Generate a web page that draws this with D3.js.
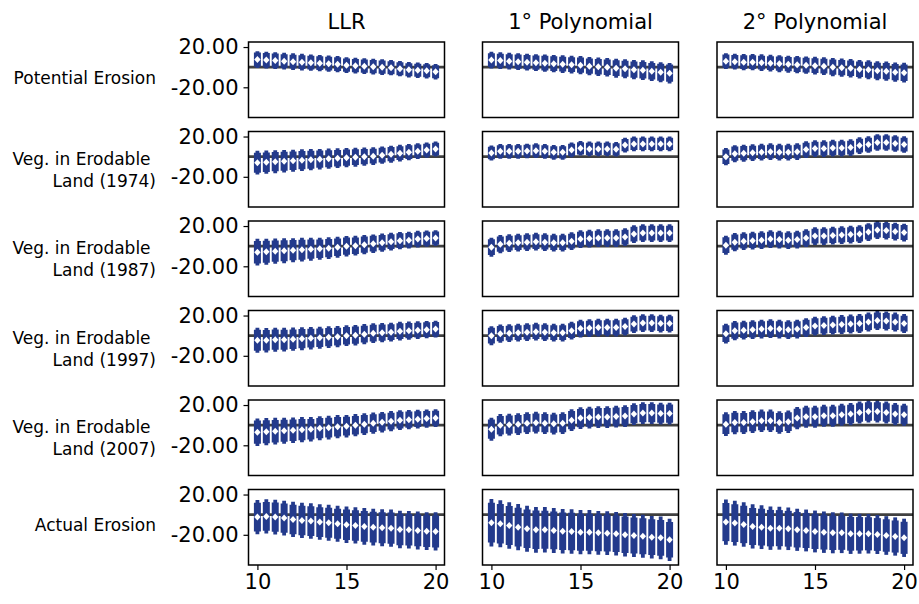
<!DOCTYPE html>
<html>
<head>
<meta charset="utf-8">
<script src="https://cdn.jsdelivr.net/npm/d3@7"></script>
<style>
  html, body { margin: 0; padding: 0; background: #fff; }
  svg { display: block; }
  text { font-family: "DejaVu Sans", sans-serif; fill: #000; }
</style>
</head>
<body>
<svg id="chart" width="919" height="604"></svg>
<script>
// Bandwidths at which each estimate was computed
const bandwidths = [10, 10.5, 11, 11.5, 12, 12.5, 13, 13.5, 14, 14.5, 15, 15.5, 16, 16.5, 17, 17.5, 18, 18.5, 19, 19.5, 20];

const methods = ["LLR", "1° Polynomial", "2° Polynomial"];
const outcomes = ["Potential Erosion", "Veg. in Erodable \nLand (1974)", "Veg. in Erodable \nLand (1987)",
                  "Veg. in Erodable \nLand (1997)", "Veg. in Erodable \nLand (2007)", "Actual Erosion"];
const yTicks = [20, -20];
const xTicks = [10, 15, 20];

// Point estimates and standard errors, one array per outcome × method
const estPotLLR = [7.5, 7, 6.5, 6, 5.5, 5, 4.5, 4, 3.5, 3, 2, 1.5, 1, 0.5, 0, -0.5, -1.5, -2.5, -3, -3.5, -4.5];
const sePotLLR  = [4.3, 4.3, 4.3, 4.2, 4.2, 4.2, 4.1, 4.1, 4.1, 4.1, 4.0, 4.0, 4.0, 4.0, 4.0, 3.9, 3.9, 3.9, 3.9, 3.9, 3.9];
const estPotP1  = [7, 6.5, 6, 5.5, 5, 4.5, 4, 3.5, 3, 2.5, 2, 1, 0.5, 0, -1, -1.5, -2.5, -3, -4, -5, -6];
const sePotP1   = [4.2, 4.2, 4.2, 4.3, 4.3, 4.3, 4.4, 4.4, 4.5, 4.5, 4.6, 4.6, 4.7, 4.7, 4.8, 4.8, 4.9, 5.0, 5.0, 5.1, 5.2];
const estPotP2  = [6, 5.5, 5, 5, 4.5, 4, 3.5, 3, 2.5, 2, 1.5, 1, 0, -0.5, -1, -2, -2.5, -3.5, -4, -5, -5.5];
const sePotP2   = [4.0, 4.0, 4.1, 4.1, 4.2, 4.2, 4.3, 4.3, 4.4, 4.4, 4.5, 4.5, 4.6, 4.6, 4.7, 4.7, 4.8, 4.8, 4.9, 4.9, 5.0];

const estV74LLR = [-6, -5.5, -5, -4.5, -4, -3.5, -3, -2.5, -2, -1.5, -1, -0.5, 0, 0.5, 1.5, 2.5, 3.5, 4.5, 5.5, 6.5, 7.5];
const seV74LLR  = [6.0, 5.9, 5.8, 5.7, 5.6, 5.5, 5.4, 5.2, 5.1, 5.0, 4.9, 4.8, 4.6, 4.5, 4.4, 4.3, 4.2, 4.1, 4.0, 3.9, 3.8];
const estV74P1  = [3.7, 5.3, 5.3, 5.3, 5.7, 6, 5.3, 4.3, 4.3, 6.7, 8.3, 7.7, 7.7, 7.7, 7.3, 11.5, 12.7, 12.7, 12.7, 12.7, 12.7];
const seV74P1   = [3.8, 3.7, 3.7, 3.7, 3.7, 3.7, 3.7, 3.7, 3.7, 3.7, 3.7, 3.7, 3.7, 3.7, 3.7, 3.7, 3.7, 3.7, 3.7, 3.7, 3.7];
const estV74P2  = [0, 3, 3.5, 4, 4.5, 5, 4.5, 4.5, 5, 7, 8, 8, 8.5, 8.5, 9, 11, 12, 14, 14, 13, 12];
const seV74P2   = [4.4, 4.3, 4.3, 4.2, 4.2, 4.2, 4.2, 4.2, 4.2, 4.2, 4.2, 4.2, 4.2, 4.2, 4.2, 4.2, 4.2, 4.2, 4.2, 4.2, 4.2];

const estV87LLR = [-6, -5.5, -5, -4.5, -4, -3.5, -3, -2.5, -2, -1, 0, 0.5, 1.5, 2.5, 3.5, 4.5, 5.5, 6, 7, 7.5, 8];
const seV87LLR  = [6.8, 6.6, 6.4, 6.3, 6.1, 6.0, 5.8, 5.6, 5.5, 5.3, 5.2, 5.0, 4.9, 4.7, 4.6, 4.5, 4.4, 4.3, 4.2, 4.1, 4.0];
const estV87P1  = [-1, 2, 3, 3.5, 4, 4.5, 4, 3.5, 3.5, 5, 7, 7.5, 8, 8, 8, 9, 12, 13, 13, 13, 13];
const seV87P1   = [4.8, 4.6, 4.5, 4.5, 4.5, 4.5, 4.5, 4.5, 4.5, 4.5, 4.5, 4.5, 4.5, 4.5, 4.5, 4.5, 4.5, 4.5, 4.5, 4.5, 4.5];
const estV87P2  = [1, 4, 5, 5.5, 6, 7, 6.5, 6, 6.5, 8, 10, 10, 10.5, 11, 11.5, 12, 14, 16, 15.5, 14.5, 13.5];
const seV87P2   = [4.8, 4.6, 4.5, 4.5, 4.5, 4.5, 4.5, 4.5, 4.5, 4.5, 4.5, 4.5, 4.5, 4.5, 4.5, 4.5, 4.5, 4.5, 4.5, 4.5, 4.5];

const estV97LLR = [-4.5, -4.5, -4, -4, -3.5, -3, -2.5, -2, -1.5, -1, 0, 0.5, 1.5, 2.5, 3, 3.5, 4.5, 5, 5.5, 6, 6.5];
const seV97LLR  = [6.3, 6.2, 6.1, 6.0, 5.9, 5.8, 5.7, 5.6, 5.5, 5.4, 5.3, 5.2, 5.1, 5.0, 4.9, 4.8, 4.7, 4.6, 4.5, 4.4, 4.3];
const estV97P1  = [0, 2, 2.5, 3, 3.5, 4, 3.5, 3, 3, 5, 7, 7.5, 8, 8, 8, 9, 11.5, 12.5, 12.5, 12, 12];
const seV97P1   = [4.8, 4.6, 4.5, 4.5, 4.5, 4.5, 4.5, 4.5, 4.5, 4.5, 4.5, 4.5, 4.5, 4.5, 4.5, 4.5, 4.5, 4.5, 4.5, 4.5, 4.5];
const estV97P2  = [2, 5, 5.5, 6, 6.5, 7, 6.5, 6, 6.5, 8, 9.5, 10, 10.5, 11, 11.5, 12, 13.5, 15, 14.5, 13.5, 12];
const seV97P2   = [5.0, 4.9, 4.8, 4.8, 4.8, 4.8, 4.8, 4.8, 4.8, 4.8, 4.8, 4.8, 4.8, 4.8, 4.8, 4.8, 4.8, 4.8, 4.8, 4.8, 4.8];

const estV07LLR = [-7, -6.5, -6, -5.5, -5, -4.5, -4, -3, -2.5, -1.5, -1, 0, 1, 2, 3, 4, 5, 5.5, 6, 6.5, 7];
const seV07LLR  = [7.0, 6.9, 6.8, 6.6, 6.5, 6.4, 6.2, 6.1, 6.0, 5.9, 5.7, 5.6, 5.5, 5.4, 5.2, 5.1, 5.0, 4.9, 4.7, 4.6, 4.5];
const estV07P1  = [-4, 0, 0.5, 1, 2, 2.5, 2, 1.5, 2, 5, 7, 7.5, 8, 8, 8.5, 9, 11, 12, 12, 11.5, 11.5];
const seV07P1   = [5.8, 5.6, 5.5, 5.5, 5.5, 5.5, 5.5, 5.5, 5.5, 5.5, 5.5, 5.5, 5.5, 5.5, 5.5, 5.5, 5.5, 5.5, 5.5, 5.5, 5.5];
const estV07P2  = [1, 2.6, 2.6, 3.5, 4.3, 4.3, 2.6, 3.5, 7, 8.3, 8.3, 9.3, 9.3, 10.3, 11, 12.6, 13.6, 13.6, 12.6, 11, 10.3];
const seV07P2   = [6.0, 5.9, 5.8, 5.8, 5.7, 5.7, 5.7, 5.7, 5.6, 5.6, 5.6, 5.6, 5.6, 5.6, 5.6, 5.6, 5.6, 5.6, 5.6, 5.6, 5.6];

const estActLLR = [-2.4, -1.7, -2.4, -3.4, -4.7, -5.7, -6.4, -7.4, -8, -9, -10, -10.7, -11.7, -12.4, -13, -13.4, -14.7, -15, -15.7, -16.4, -16.7];
const seActLLR  = [8.7, 8.7, 8.8, 8.8, 8.9, 8.9, 9.0, 9.0, 9.1, 9.1, 9.2, 9.2, 9.3, 9.3, 9.4, 9.4, 9.5, 9.5, 9.6, 9.6, 9.7];
const estActP1  = [-8, -9, -10.7, -12.4, -14, -15, -15, -15.7, -16.4, -16.7, -17.4, -17.4, -18, -18.4, -19, -20, -20.7, -21.4, -22.4, -23, -25];
const seActP1   = [12.0, 11.9, 11.8, 11.7, 11.6, 11.6, 11.5, 11.4, 11.3, 11.3, 11.2, 11.2, 11.1, 11.1, 11.0, 11.0, 10.9, 10.9, 10.8, 10.8, 10.7];
const estActP2  = [-7.4, -8.4, -9.7, -11.7, -12.4, -13.4, -13.4, -14, -15, -15.7, -16.7, -17.4, -18, -18, -19, -19, -19, -19.7, -20.7, -21.7, -23];
const seActP2   = [11.5, 11.4, 11.3, 11.2, 11.1, 11.0, 10.9, 10.8, 10.7, 10.6, 10.6, 10.5, 10.4, 10.3, 10.2, 10.1, 10.0, 9.9, 9.8, 9.7, 9.7];

const grid = [
  [[estPotLLR, sePotLLR], [estPotP1, sePotP1], [estPotP2, sePotP2]],
  [[estV74LLR, seV74LLR], [estV74P1, seV74P1], [estV74P2, seV74P2]],
  [[estV87LLR, seV87LLR], [estV87P1, seV87P1], [estV87P2, seV87P2]],
  [[estV97LLR, seV97LLR], [estV97P1, seV97P1], [estV97P2, seV97P2]],
  [[estV07LLR, seV07LLR], [estV07P1, seV07P1], [estV07P2, seV07P2]],
  [[estActLLR, seActLLR], [estActP1, seActP1], [estActP2, seActP2]]
];

const Z95 = 1.96, Z90 = 1.645;

// Layout
const colLeft = [248.5, 482.5, 717];
const rowTop = [42, 131.5, 221, 310.5, 400, 489.5];
const pw = 196, ph = 75.5;
const barColor = "#233a8c";

const svg = d3.select("#chart");
const x = d3.scaleLinear().domain([9.5, 20.5]).range([0, pw]);
const y = d3.scaleLinear().domain([-50, 25]).range([ph, 0]);
const fmt = v => d3.format(".2f")(v).replace("\u2212", "-");

// Column titles
methods.forEach((m, c) => {
  svg.append("text")
    .attr("x", colLeft[c] + pw / 2)
    .attr("y", 29)
    .attr("text-anchor", "middle")
    .style("font-size", "21px")
    .text(m);
});

grid.forEach((row, r) => {
  // Row label, right-aligned, lines stacked about the panel centre
  const lines = outcomes[r].split("\n");
  const lh = 22;
  const cy = rowTop[r] + ph / 2 + (lines.length > 1 ? 0.5 : -2);
  const lbl = svg.append("text")
    .attr("text-anchor", "end")
    .style("font-size", "17px")
    .attr("xml:space", "preserve");
  lines.forEach((ln, i) => {
    lbl.append("tspan")
      .attr("x", 156)
      .attr("y", cy + (i - (lines.length - 1) / 2) * lh + 6)
      .text(ln);
  });

  row.forEach(([est, se], c) => {
    const g = svg.append("g").attr("transform", `translate(${colLeft[c]},${rowTop[r]})`);
    const clipId = `clip-${r}-${c}`;
    g.append("clipPath").attr("id", clipId)
      .append("rect").attr("width", pw).attr("height", ph);

    const plot = g.append("g").attr("clip-path", `url(#${clipId})`);

    // zero reference line
    plot.append("line")
      .attr("x1", 0).attr("x2", pw)
      .attr("y1", y(0)).attr("y2", y(0))
      .attr("stroke", "#000").attr("stroke-opacity", 0.75)
      .attr("stroke-width", 2.6);

    const pts = bandwidths.map((b, i) => ({ b, e: est[i], s: se[i] }));

    // 95% intervals (thin)
    plot.selectAll(".ci95").data(pts).join("line")
      .attr("x1", d => x(d.b)).attr("x2", d => x(d.b))
      .attr("y1", d => y(d.e - Z95 * d.s)).attr("y2", d => y(d.e + Z95 * d.s))
      .attr("stroke", barColor).attr("stroke-width", 3.8);

    // 90% intervals (thick)
    plot.selectAll(".ci90").data(pts).join("line")
      .attr("x1", d => x(d.b)).attr("x2", d => x(d.b))
      .attr("y1", d => y(d.e - Z90 * d.s)).attr("y2", d => y(d.e + Z90 * d.s))
      .attr("stroke", barColor).attr("stroke-width", 7);

    // point estimates
    plot.selectAll(".pt").data(pts).join("path")
      .attr("transform", d => `translate(${x(d.b)},${y(d.e)})`)
      .attr("d", "M0,-3.5L3.2,0L0,3.5L-3.2,0Z")
      .attr("fill", "#fff");

    // frame
    g.append("rect")
      .attr("width", pw).attr("height", ph)
      .attr("fill", "none").attr("stroke", "#000").attr("stroke-width", 1.5);

    // y axis on the first column
    if (c === 0) {
      const ax = g.append("g")
        .call(d3.axisLeft(y).tickValues(yTicks).tickFormat(fmt).tickSize(5).tickPadding(5));
      ax.select(".domain").remove();
      ax.selectAll(".tick line").attr("stroke", "#000").attr("stroke-width", 1.2);
      ax.selectAll(".tick text").style("font-size", "21px").attr("font-family", "DejaVu Sans");
    }
    // x axis on the bottom row
    if (r === grid.length - 1) {
      const ax = g.append("g").attr("transform", `translate(0,${ph})`)
        .call(d3.axisBottom(x).tickValues(xTicks).tickFormat(d3.format("d")).tickSize(5).tickPadding(4));
      ax.select(".domain").remove();
      ax.selectAll(".tick line").attr("stroke", "#000").attr("stroke-width", 1.2);
      ax.selectAll(".tick text").style("font-size", "21px").attr("font-family", "DejaVu Sans");
    }
  });
});
</script>
</body>
</html>
